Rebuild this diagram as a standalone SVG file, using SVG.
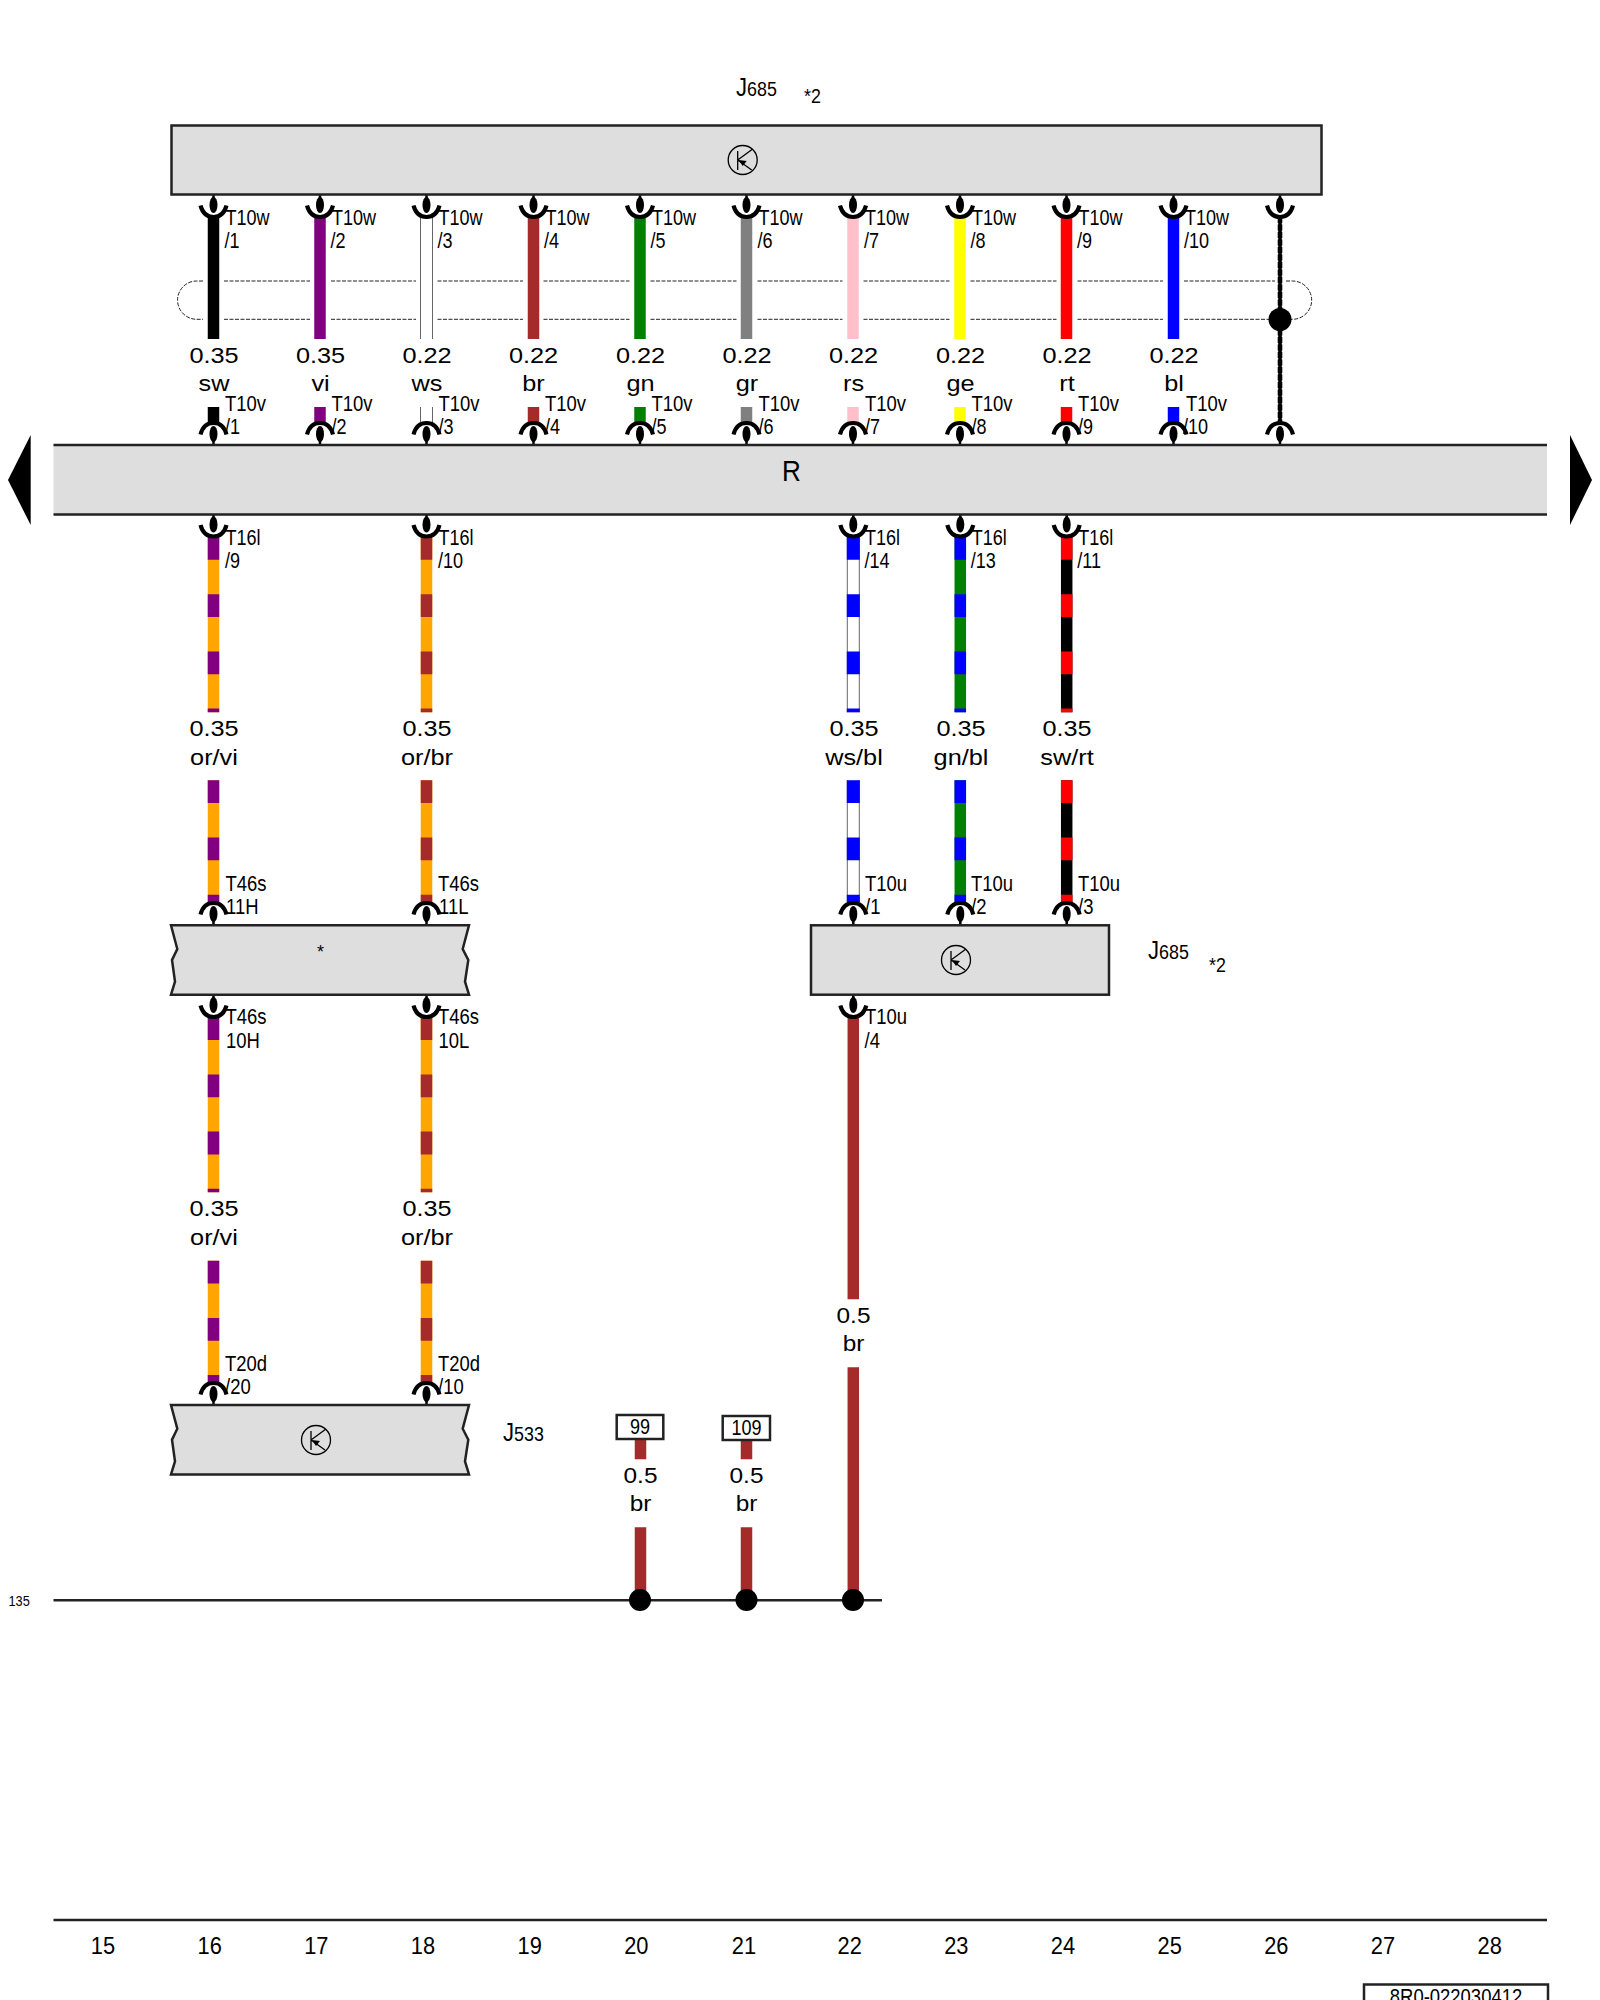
<svg xmlns="http://www.w3.org/2000/svg" xmlns:xlink="http://www.w3.org/1999/xlink" width="1600" height="2000" viewBox="0 0 1600 2000">
<style>
text{font-family:"Liberation Sans",Arial,sans-serif;font-size:22px;fill:#000}
.c{text-anchor:middle}
.box{fill:#dedede;stroke:#222;stroke-width:2.5}
.bar{stroke:#222;stroke-width:2.5;fill:none}
.w{fill:none;stroke-width:11.5}
.d{stroke-dasharray:22.8 34.4}
.edge{stroke:#666;stroke-width:13}
.in{stroke:#fff;stroke-width:11}
.sh{fill:none;stroke:#222;stroke-width:1;stroke-dasharray:4 1.5}
.lab{fill:#fff;stroke:#222;stroke-width:2.5}
</style>
<defs>
<g id="arch"><path d="M-13-10.500C-11-18-6-22 0-22S11-18 13-10.500" fill="none" stroke="#000" stroke-width="4.200"/><ellipse cy="-11" rx="4" ry="8" fill="#000"/><path d="M0-11V0" stroke="#000" stroke-width="2.500"/></g>
<g id="cup"><path d="M-13 10.500C-11 18-6 22 0 22S11 18 13 10.500" fill="none" stroke="#000" stroke-width="4.200"/><ellipse cy="10" rx="4" ry="8" fill="#000"/><path d="M0 0V10" stroke="#000" stroke-width="2.500"/></g>
<g id="tr"><circle r="14.500" fill="none" stroke="#000" stroke-width="1.300"/><path d="M-5-9V10M-5 0L10-11M-5 0L9 10" fill="none" stroke="#000" stroke-width="1.300"/><path d="M-4 0L4 1L0 6Z" fill="#000"/></g>
</defs>

<g id="connectors">
<g id="top-wires">
<path class="w" stroke="#000" d="M213.500 217V339"/><path class="w" stroke="#000" d="M213.500 407V422"/>
<path class="w" stroke="#800080" d="M320 217V339"/><path class="w" stroke="#800080" d="M320 407V422"/>
<path class="w edge" d="M426.500 217V339"/><path class="w in" d="M426.500 217V339"/><path class="w edge" d="M426.500 407V422"/><path class="w in" d="M426.500 407V422"/>
<path class="w" stroke="#a52a2a" d="M533.500 217V339"/><path class="w" stroke="#a52a2a" d="M533.500 407V422"/>
<path class="w" stroke="#008000" d="M640 217V339"/><path class="w" stroke="#008000" d="M640 407V422"/>
<path class="w" stroke="#808080" d="M746.500 217V339"/><path class="w" stroke="#808080" d="M746.500 407V422"/>
<path class="w" stroke="#ffc0cb" d="M853 217V339"/><path class="w" stroke="#ffc0cb" d="M853 407V422"/>
<path class="w" stroke="#ffff00" d="M960 217V339"/><path class="w" stroke="#ffff00" d="M960 407V422"/>
<path class="w" stroke="#ff0000" d="M1066.500 217V339"/><path class="w" stroke="#ff0000" d="M1066.500 407V422"/>
<path class="w" stroke="#0000ff" d="M1173.500 217V339"/><path class="w" stroke="#0000ff" d="M1173.500 407V422"/>
<path d="M1280 217V422" stroke="#000" stroke-width="3.600" fill="none"/><path d="M1280 217V422" stroke="#000" stroke-width="4.600" stroke-dasharray="6 1.500" fill="none"/>
</g>
<g id="shield">
<path class="sh" d="M203 281H196.700A19.150 19.150 0 0 0 196.700 319.300H203M224 281H310M331 281H416M437.500 281H523M543.500 281H629.500M650.500 281H736.500M757.500 281H842.500M863.500 281H949.500M970.500 281H1056.500M1077.500 281H1163M1184 281H1275M1286 281H1292.500A19.150 19.150 0 0 1 1292.500 319.300H1288"/>
<path class="sh" d="M224 319.300H310M331 319.300H416M437.500 319.300H523M543.500 319.300H629.500M650.500 319.300H736.500M757.500 319.300H842.500M863.500 319.300H949.500M970.500 319.300H1056.500M1077.500 319.300H1163M1184 319.300H1270"/>
<circle cx="1280" cy="319.500" r="11.500" fill="#000"/>
</g>
<g id="striped-wires">
<path class="w" stroke="#ffa500" d="M213.500 537V712.300M213.500 780.300V902M213.500 1017.200V1192.300M213.500 1260.700V1382"/>
<path class="w d" stroke="#800080" d="M213.500 537V712.300"/><path class="w d" stroke="#800080" d="M213.500 780.300V902"/><path class="w d" stroke="#800080" d="M213.500 1017.200V1192.300"/><path class="w d" stroke="#800080" d="M213.500 1260.700V1382"/>
<path class="w" stroke="#ffa500" d="M426.500 537V712.300M426.500 780.300V902M426.500 1017.200V1192.300M426.500 1260.700V1382"/>
<path class="w d" stroke="#a52a2a" d="M426.500 537V712.300"/><path class="w d" stroke="#a52a2a" d="M426.500 780.300V902"/><path class="w d" stroke="#a52a2a" d="M426.500 1017.200V1192.300"/><path class="w d" stroke="#a52a2a" d="M426.500 1260.700V1382"/>
<path class="w edge" d="M853.300 537V712.300M853.300 780.300V902"/><path class="w in" d="M853.300 537V712.300M853.300 780.300V902"/>
<path class="w d" style="stroke-width:13" stroke="#0000ff" d="M853.300 537V712.300"/><path class="w d" style="stroke-width:13" stroke="#0000ff" d="M853.300 780.300V902"/>
<path class="w" stroke="#008000" d="M960.300 537V712.300M960.300 780.300V902"/>
<path class="w d" stroke="#0000ff" d="M960.300 537V712.300"/><path class="w d" stroke="#0000ff" d="M960.300 780.300V902"/>
<path class="w" stroke="#000" d="M1066.700 537V712.300M1066.700 780.300V902"/>
<path class="w d" stroke="#ff0000" d="M1066.700 537V712.300"/><path class="w d" stroke="#ff0000" d="M1066.700 780.300V902"/>
<path class="w" stroke="#a52a2a" d="M853.300 1017V1299.300M853.300 1367.300V1600M640.500 1439V1459.300M640.500 1527.300V1600M746.500 1440V1459.300M746.500 1527.300V1600"/>
</g>
<g id="pins">
<use href="#cup" x="213.500" y="195"/><use href="#cup" x="320" y="195"/><use href="#cup" x="426.500" y="195"/><use href="#cup" x="533.500" y="195"/><use href="#cup" x="640" y="195"/><use href="#cup" x="746.500" y="195"/><use href="#cup" x="853" y="195"/><use href="#cup" x="960" y="195"/><use href="#cup" x="1066.500" y="195"/><use href="#cup" x="1173.500" y="195"/><use href="#cup" x="1280" y="195"/>
<use href="#arch" x="213.500" y="445"/><use href="#arch" x="320" y="445"/><use href="#arch" x="426.500" y="445"/><use href="#arch" x="533.500" y="445"/><use href="#arch" x="640" y="445"/><use href="#arch" x="746.500" y="445"/><use href="#arch" x="853" y="445"/><use href="#arch" x="960" y="445"/><use href="#arch" x="1066.500" y="445"/><use href="#arch" x="1173.500" y="445"/><use href="#arch" x="1280" y="445"/>
<use href="#cup" x="213.500" y="514.500"/><use href="#cup" x="426.500" y="514.500"/><use href="#cup" x="853.300" y="514.500"/><use href="#cup" x="960.300" y="514.500"/><use href="#cup" x="1066.700" y="514.500"/>
<use href="#arch" x="213.500" y="925"/><use href="#arch" x="426.500" y="925"/><use href="#arch" x="853.300" y="925"/><use href="#arch" x="960.300" y="925"/><use href="#arch" x="1066.700" y="925"/>
<use href="#cup" x="213.500" y="995"/><use href="#cup" x="426.500" y="995"/><use href="#cup" x="853.300" y="995"/>
<use href="#arch" x="213.500" y="1405"/><use href="#arch" x="426.500" y="1405"/>
</g>
<g id="ground">
<path class="bar" d="M53.500 1600.300H882"/>
<circle cx="640" cy="1600" r="11" fill="#000"/><circle cx="746.500" cy="1600" r="11" fill="#000"/><circle cx="853" cy="1600" r="11" fill="#000"/>
</g>
</g>

<g id="J685-top">
<rect class="box" x="171.500" y="125.500" width="1150" height="69"/>
<use href="#tr" x="742.700" y="160"/>
<text transform="translate(736 96) scale(.85 1)"><tspan style="font-size:26px">J</tspan><tspan style="font-size:21px">685</tspan></text>
<text style="font-size:21px" transform="translate(804 103) scale(.85 1)">*2</text>
</g>
<g id="R">
<rect x="53.500" y="445" width="1493.500" height="69.500" fill="#dedede"/>
<path class="bar" d="M53.500 445H1547M53.500 514.500H1547"/>
<path d="M30.700 435V525L8 480Z" fill="#000"/>
<path d="M1570 435V525L1592 480Z" fill="#000"/>
<text class="c" style="font-size:29px" transform="translate(791.500 481) scale(.9 1)">R</text>
</g>
<g id="star-module">
<path class="box" d="M171 925.300H469L462.700 949L468.300 960L465 981.700L469 994.700H171L175 981.700L172 960L177.300 949Z"/>
<text class="c" style="font-size:18px" transform="translate(320.500 958)">*</text>
</g>
<g id="J685-lower">
<rect class="box" x="811" y="925.300" width="298" height="69.400"/>
<use href="#tr" x="956" y="960"/>
<text transform="translate(1148 959) scale(.85 1)"><tspan style="font-size:26px">J</tspan><tspan style="font-size:21px">685</tspan></text>
<text style="font-size:21px" transform="translate(1209 971.700) scale(.85 1)">*2</text>
</g>
<g id="J533">
<path class="box" d="M171 1405H469L462.700 1428.700L468.300 1439.700L465 1461.400L469 1474.400H171L175 1461.400L172 1439.700L177.300 1428.700Z"/>
<use href="#tr" x="316" y="1440"/>
<text transform="translate(503 1440.700) scale(.85 1)"><tspan style="font-size:26px">J</tspan><tspan style="font-size:21px">533</tspan></text>
</g>
<g id="terminal-99">
<rect class="lab" x="616.700" y="1415" width="46.600" height="24"/>
<text class="c" transform="translate(640 1434) scale(.82 1)">99</text>
</g>
<g id="terminal-109">
<rect class="lab" x="722.700" y="1416" width="47.300" height="24"/>
<text class="c" transform="translate(746.500 1435) scale(.82 1)">109</text>
</g>

<g id="pin-labels">
<text transform="translate(225.500 225) scale(.82 1)">T10w</text><text transform="translate(224.500 248) scale(.82 1)">/1</text>
<text transform="translate(332 225) scale(.82 1)">T10w</text><text transform="translate(330.500 248) scale(.82 1)">/2</text>
<text transform="translate(438.500 225) scale(.82 1)">T10w</text><text transform="translate(437.500 248) scale(.82 1)">/3</text>
<text transform="translate(545.500 225) scale(.82 1)">T10w</text><text transform="translate(544 248) scale(.82 1)">/4</text>
<text transform="translate(652 225) scale(.82 1)">T10w</text><text transform="translate(650.500 248) scale(.82 1)">/5</text>
<text transform="translate(758.500 225) scale(.82 1)">T10w</text><text transform="translate(757.500 248) scale(.82 1)">/6</text>
<text transform="translate(865 225) scale(.82 1)">T10w</text><text transform="translate(864 248) scale(.82 1)">/7</text>
<text transform="translate(972 225) scale(.82 1)">T10w</text><text transform="translate(970.500 248) scale(.82 1)">/8</text>
<text transform="translate(1078.500 225) scale(.82 1)">T10w</text><text transform="translate(1077 248) scale(.82 1)">/9</text>
<text transform="translate(1185 225) scale(.82 1)">T10w</text><text transform="translate(1184 248) scale(.82 1)">/10</text>
<text transform="translate(225 411) scale(.84 1)">T10v</text><text transform="translate(225 434) scale(.82 1)">/1</text>
<text transform="translate(331.500 411) scale(.84 1)">T10v</text><text transform="translate(331.500 434) scale(.82 1)">/2</text>
<text transform="translate(438.500 411) scale(.84 1)">T10v</text><text transform="translate(438.500 434) scale(.82 1)">/3</text>
<text transform="translate(545 411) scale(.84 1)">T10v</text><text transform="translate(545 434) scale(.82 1)">/4</text>
<text transform="translate(651.500 411) scale(.84 1)">T10v</text><text transform="translate(651.500 434) scale(.82 1)">/5</text>
<text transform="translate(758.500 411) scale(.84 1)">T10v</text><text transform="translate(758.500 434) scale(.82 1)">/6</text>
<text transform="translate(865 411) scale(.84 1)">T10v</text><text transform="translate(865 434) scale(.82 1)">/7</text>
<text transform="translate(971.500 411) scale(.84 1)">T10v</text><text transform="translate(971.500 434) scale(.82 1)">/8</text>
<text transform="translate(1078 411) scale(.84 1)">T10v</text><text transform="translate(1078 434) scale(.82 1)">/9</text>
<text transform="translate(1186 411) scale(.84 1)">T10v</text><text transform="translate(1183 434) scale(.82 1)">/10</text>
<text transform="translate(225.500 545) scale(.82 1)">T16l</text><text transform="translate(225 568) scale(.82 1)">/9</text>
<text transform="translate(438.500 545) scale(.82 1)">T16l</text><text transform="translate(438 568) scale(.82 1)">/10</text>
<text transform="translate(865 545) scale(.82 1)">T16l</text><text transform="translate(864.500 568) scale(.82 1)">/14</text>
<text transform="translate(971.700 545) scale(.82 1)">T16l</text><text transform="translate(970.700 568) scale(.82 1)">/13</text>
<text transform="translate(1078.300 545) scale(.82 1)">T16l</text><text transform="translate(1077.300 568) scale(.82 1)">/11</text>
<text transform="translate(225.500 891) scale(.84 1)">T46s</text><text transform="translate(226 914) scale(.84 1)">11H</text>
<text transform="translate(438 891) scale(.84 1)">T46s</text><text transform="translate(439 914) scale(.84 1)">11L</text>
<text transform="translate(865 891) scale(.84 1)">T10u</text><text transform="translate(865 914) scale(.84 1)">/1</text>
<text transform="translate(971 891) scale(.84 1)">T10u</text><text transform="translate(971 914) scale(.84 1)">/2</text>
<text transform="translate(1078 891) scale(.84 1)">T10u</text><text transform="translate(1078 914) scale(.84 1)">/3</text>
<text transform="translate(225.500 1024.300) scale(.84 1)">T46s</text><text transform="translate(226 1047.700) scale(.84 1)">10H</text>
<text transform="translate(438 1024.300) scale(.84 1)">T46s</text><text transform="translate(438.500 1047.700) scale(.84 1)">10L</text>
<text transform="translate(865 1024.300) scale(.84 1)">T10u</text><text transform="translate(864.500 1047.700) scale(.84 1)">/4</text>
<text transform="translate(225 1371) scale(.84 1)">T20d</text><text transform="translate(225 1394.300) scale(.84 1)">/20</text>
<text transform="translate(438 1371) scale(.84 1)">T20d</text><text transform="translate(438 1394.300) scale(.84 1)">/10</text>
</g>

<g id="wire-labels">
<text class="c" transform="translate(214 362.700) scale(1.150 1)">0.35</text><text class="c" transform="translate(214 390.700) scale(1.150 1)">sw</text>
<text class="c" transform="translate(320.500 362.700) scale(1.150 1)">0.35</text><text class="c" transform="translate(320.500 390.700) scale(1.150 1)">vi</text>
<text class="c" transform="translate(427 362.700) scale(1.150 1)">0.22</text><text class="c" transform="translate(427 390.700) scale(1.150 1)">ws</text>
<text class="c" transform="translate(533.500 362.700) scale(1.150 1)">0.22</text><text class="c" transform="translate(533.500 390.700) scale(1.150 1)">br</text>
<text class="c" transform="translate(640.500 362.700) scale(1.150 1)">0.22</text><text class="c" transform="translate(640.500 390.700) scale(1.150 1)">gn</text>
<text class="c" transform="translate(747 362.700) scale(1.150 1)">0.22</text><text class="c" transform="translate(747 390.700) scale(1.150 1)">gr</text>
<text class="c" transform="translate(853.500 362.700) scale(1.150 1)">0.22</text><text class="c" transform="translate(853.500 390.700) scale(1.150 1)">rs</text>
<text class="c" transform="translate(960.500 362.700) scale(1.150 1)">0.22</text><text class="c" transform="translate(960.500 390.700) scale(1.150 1)">ge</text>
<text class="c" transform="translate(1067 362.700) scale(1.150 1)">0.22</text><text class="c" transform="translate(1067 390.700) scale(1.150 1)">rt</text>
<text class="c" transform="translate(1174 362.700) scale(1.150 1)">0.22</text><text class="c" transform="translate(1174 390.700) scale(1.150 1)">bl</text>
<text class="c" transform="translate(214 736) scale(1.150 1)">0.35</text><text class="c" transform="translate(214 765) scale(1.150 1)">or/vi</text>
<text class="c" transform="translate(427 736) scale(1.150 1)">0.35</text><text class="c" transform="translate(427 765) scale(1.150 1)">or/br</text>
<text class="c" transform="translate(854 736) scale(1.150 1)">0.35</text><text class="c" transform="translate(854 765) scale(1.150 1)">ws/bl</text>
<text class="c" transform="translate(961 736) scale(1.150 1)">0.35</text><text class="c" transform="translate(961 765) scale(1.150 1)">gn/bl</text>
<text class="c" transform="translate(1067 736) scale(1.150 1)">0.35</text><text class="c" transform="translate(1067 765) scale(1.150 1)">sw/rt</text>
<text class="c" transform="translate(214 1216) scale(1.150 1)">0.35</text><text class="c" transform="translate(214 1245) scale(1.150 1)">or/vi</text>
<text class="c" transform="translate(427 1216) scale(1.150 1)">0.35</text><text class="c" transform="translate(427 1245) scale(1.150 1)">or/br</text>
<text class="c" transform="translate(853.500 1322.700) scale(1.110 1)">0.5</text><text class="c" transform="translate(853.500 1350.700) scale(1.110 1)">br</text>
<text class="c" transform="translate(640.500 1482.700) scale(1.110 1)">0.5</text><text class="c" transform="translate(640.500 1510.700) scale(1.110 1)">br</text>
<text class="c" transform="translate(746.500 1482.700) scale(1.110 1)">0.5</text><text class="c" transform="translate(746.500 1510.700) scale(1.110 1)">br</text>
</g>

<g id="footer">
<text style="font-size:15px" transform="translate(8.500 1606) scale(.85 1)">135</text>
<path class="bar" d="M53.500 1920H1547"/>
<g style="font-size:23px">
<text class="c" style="font-size:23px" transform="translate(103 1954) scale(.95 1)">15</text>
<text class="c" style="font-size:23px" transform="translate(209.700 1954) scale(.95 1)">16</text>
<text class="c" style="font-size:23px" transform="translate(316.300 1954) scale(.95 1)">17</text>
<text class="c" style="font-size:23px" transform="translate(423 1954) scale(.95 1)">18</text>
<text class="c" style="font-size:23px" transform="translate(529.700 1954) scale(.95 1)">19</text>
<text class="c" style="font-size:23px" transform="translate(636.300 1954) scale(.95 1)">20</text>
<text class="c" style="font-size:23px" transform="translate(744 1954) scale(.95 1)">21</text>
<text class="c" style="font-size:23px" transform="translate(849.700 1954) scale(.95 1)">22</text>
<text class="c" style="font-size:23px" transform="translate(956.300 1954) scale(.95 1)">23</text>
<text class="c" style="font-size:23px" transform="translate(1063 1954) scale(.95 1)">24</text>
<text class="c" style="font-size:23px" transform="translate(1169.700 1954) scale(.95 1)">25</text>
<text class="c" style="font-size:23px" transform="translate(1276.300 1954) scale(.95 1)">26</text>
<text class="c" style="font-size:23px" transform="translate(1383 1954) scale(.95 1)">27</text>
<text class="c" style="font-size:23px" transform="translate(1489.700 1954) scale(.95 1)">28</text>
</g>
<rect x="1364" y="1984.500" width="184" height="30" fill="#fff" stroke="#222" stroke-width="2.500"/>
<text class="c" transform="translate(1456 2004) scale(.84 1)">8R0-022030412</text>
</g>
</svg>
